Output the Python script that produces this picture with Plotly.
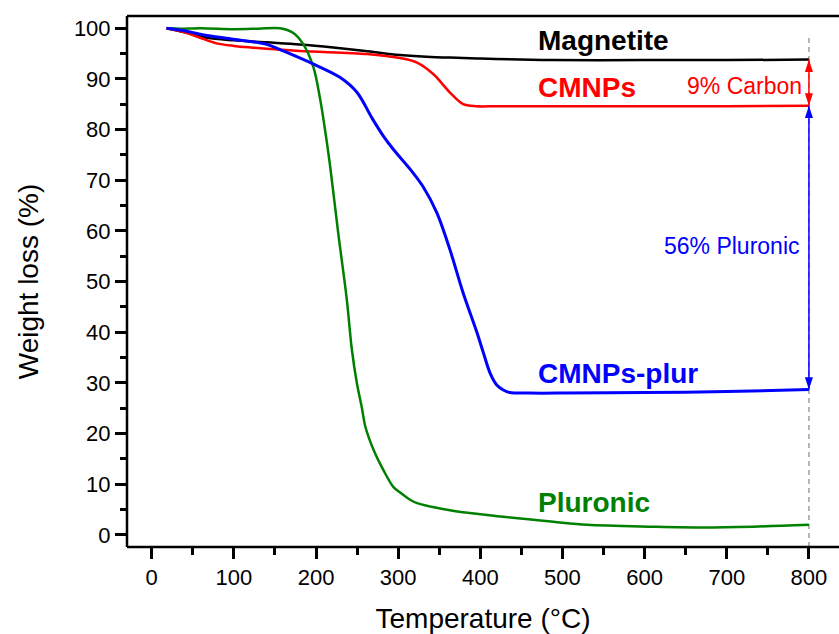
import plotly.graph_objects as go

# ---- data ----
mag_T = [18, 40, 67, 100, 140, 180, 221, 260, 302, 340, 363, 400, 485, 600, 700, 800]
mag_W = [100, 99.2, 98.1, 97.6, 97.2, 96.8, 96.2, 95.5, 94.7, 94.3, 94.2, 94.0, 93.7, 93.7, 93.7, 93.8]

cmn_T = [18, 40, 59, 79, 100, 120, 180, 262, 302, 323, 343, 363, 379, 395, 420, 500, 600, 700, 800]
cmn_W = [100, 99.2, 98.1, 97.0, 96.5, 96.2, 95.5, 94.9, 94.1, 93.2, 90.9, 87.3, 85.0, 84.6, 84.6, 84.6, 84.6, 84.6, 84.7]

plur_T = [18, 40, 59, 99, 140, 160, 197, 229, 250, 268, 282, 294, 315, 330, 347, 363, 379, 396, 404,
          412, 420, 428, 436, 460, 500, 600, 700, 800]
plur_W = [100, 99.5, 98.8, 97.8, 96.8, 95.5, 92.9, 90.3, 87.3, 82.3, 78.7, 76.1, 72.1, 68.8, 63.6,
          56.3, 47.8, 39.9, 35.8, 31.9, 29.6, 28.6, 28.1, 28.0, 28.0, 28.1, 28.3, 28.7]

pl_T = [20, 34, 60, 100, 130, 156, 172, 184.6, 197, 205, 210, 217, 227, 237.5, 243.6, 249.7, 255.8,
        260, 270, 282, 294, 303, 315, 323, 363, 408, 489, 530, 611, 672, 732, 800]
pl_W = [100, 99.9, 100, 99.8, 99.9, 100, 99.1, 96.8, 92.2, 86.0, 81.0, 73.0, 59.6, 46.4, 36.6, 30.0,
        25.1, 21.4, 16.8, 12.8, 9.5, 8.3, 6.9, 6.3, 4.9, 3.95, 2.6, 2.0, 1.65, 1.5, 1.65, 2.0]

x_ticks = [0, 100, 200, 300, 400, 500, 600, 700, 800]
y_ticks = [0, 10, 20, 30, 40, 50, 60, 70, 80, 90, 100]

FONT = "Arial, Liberation Sans, sans-serif"
BLACK, RED, BLUE, GREEN = "#000000", "#FF0000", "#0000FF", "#008000"

T_end = mag_T[-1]
y_lo, y_hi = -2.37, 102.4

fig = go.Figure()

# dashed guide at end temperature (drawn first, underneath)
fig.add_trace(go.Scatter(x=[T_end, T_end], y=[y_lo, 98.4], mode="lines", hoverinfo="skip",
                         line=dict(color="#A0A0A0", width=1.5, dash="5px,4px")))

for T, W, c, w, name in [(mag_T, mag_W, BLACK, 2.5, "Magnetite"),
                         (cmn_T, cmn_W, RED, 2.5, "CMNPs"),
                         (pl_T, pl_W, GREEN, 2.5, "Pluronic"),
                         (plur_T, plur_W, BLUE, 3, "CMNPs-plur")]:
    fig.add_trace(go.Scatter(x=T, y=W, mode="lines", name=name,
                             line=dict(color=c, width=w, shape="spline", smoothing=0.9)))

# frame lines (left, bottom, top)
for x0, y0, x1, y1 in [(0, 0, 0, 1), (0, 0, 1, 0), (0, 1, 1, 1)]:
    fig.add_shape(type="line", xref="paper", yref="paper", x0=x0, y0=y0, x1=x1, y1=y1,
                  line=dict(color="black", width=2.5))

# double arrows (between the residual weights at the end temperature)
for top, bottom, c in [(mag_W[-1], cmn_W[-1], RED), (cmn_W[-1], plur_W[-1], BLUE)]:
    fig.add_trace(go.Scatter(x=[T_end, T_end], y=[top, bottom], mode="lines+markers",
                             line=dict(color=c, width=1.5),
                             marker=dict(symbol="arrow", size=13, angle=[0, 180], color=c,
                                         line=dict(width=0)),
                             hoverinfo="skip"))

# labels
def lab(text, x, y, color, size, bold=True, xanchor="left"):
    fig.add_annotation(x=x, y=y, xref="x", yref="y", text=f"<b>{text}</b>" if bold else text,
                       showarrow=False, xanchor=xanchor, yanchor="middle",
                       font=dict(family=FONT, size=size, color=color))

lab("Magnetite", 468, 97.6, BLACK, 28)
lab("CMNPs", 468, 88.2, RED, 28)
lab("CMNPs-plur", 468, 31.8, BLUE, 28)
lab("Pluronic", 468, 6.5, GREEN, 28)
lab("9% Carbon", 794, 88.6, RED, 23, bold=False, xanchor="right")
lab("56% Pluronic", 792, 57.0, BLUE, 23, bold=False, xanchor="right")

axis_common = dict(showline=False, ticks="outside", ticklen=11,
                   tickwidth=2.5, tickcolor="black", showgrid=False, zeroline=False, mirror=False,
                   showspikes=False,
                   tickfont=dict(family=FONT, size=22, color="black"))

fig.update_xaxes(range=[-30.1, 836.6], tickvals=x_ticks,
                 minor=dict(dtick=50, tick0=0, ticks="outside", ticklen=7, tickwidth=2.5,
                            tickcolor="black", showgrid=False),
                 title=dict(text="Temperature (°C)", font=dict(family=FONT, size=28, color="black"),
                            standoff=20),
                 **axis_common)
fig.update_yaxes(range=[y_lo, y_hi], tickvals=y_ticks,
                 minor=dict(dtick=5, tick0=0, ticks="outside", ticklen=6, tickwidth=2.5,
                            tickcolor="black", showgrid=False),
                 title=dict(text="Weight loss (%)", font=dict(family=FONT, size=28, color="black"),
                            standoff=27),
                 **axis_common)

fig.update_layout(width=839, height=634, margin=dict(l=127, r=0, t=16, b=87, autoexpand=False),
                  plot_bgcolor="white", paper_bgcolor="white", showlegend=False)

fig.write_html("out.html")
